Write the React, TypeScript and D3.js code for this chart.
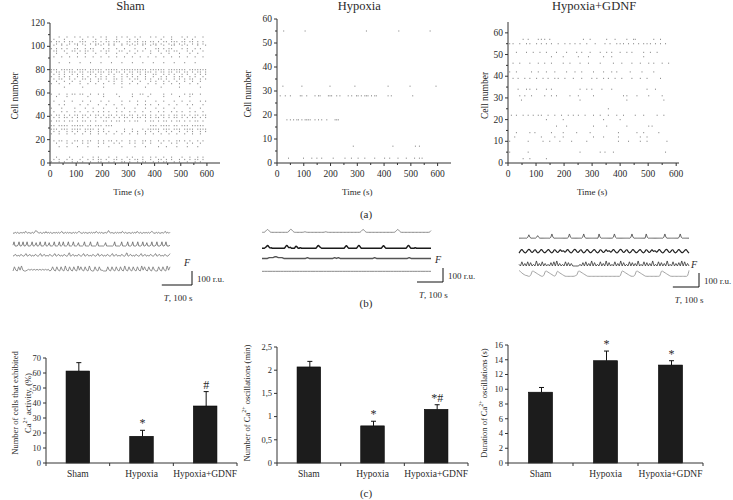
import React from 'react';
import * as d3 from 'd3';

const FONT = "'Liberation Serif', 'Times New Roman', serif";

// ---------- (a) raster data ----------
const rasterTitles = ['Sham', 'Hypoxia', 'Hypoxia+GDNF'];
const timeTicks = [0, 100, 200, 300, 400, 500, 600];

// Sham: [cell number, occupancy of 10-s bins over 0–600 s ('|' = Ca2+ event)]
const shamRows: [number, string][] = [
  [108, "...|..|..| .|..|.|..| .|...|.|.| ..|.|...|. |..|..|... |.|..|..|."],
  [106, ".|...|.... ..|....|.. .|...|.... |..|...... ..|...|... .|..|....."],
  [104, "|.||.|.||. .|||..||.| .||.|||..| |.||.||.|| .|.||.|||. ||.||.|.|."],
  [102, "..|.|..|.| |.|..|.||. |.|.|..|.| .|.|.||..| |.|..|.|.| .|..|.|.|."],
  [101, ".|..|.|... |..|...|.| ..|.|..|.. |.|..|..|. |..|..||.. |.|...|..|"],
  [98, "|.|.|.|..| |..|.||... |.|..|..|. ..|...|... ||.|.||... |.|..|.|.."],
  [96, ".||..|..|| .|.||.|..| .||...||.. |..|.|..|. .|..||.||. ..|.|...|."],
  [94, "..|...|... |..|...|.. .|...|...| ..|.....|. ..|..|...| ...|..|..."],
  [91, ".|..|..|.. |..|..|..| ..|..|..|. .|..|..|.. |..|..|..| ..|..|..|."],
  [86, "...|...|.. .|...|...| ...|...|.. .|...|...| ...|...|.. .|...|...."],
  [80, "|||.|||||. ||||.||||| .|||||.||| |||||||.|| ||||.||||| ||.|||||||"],
  [78, "|.||.|.||| .||.|||.|| |.||.||.|. ||.||.|||. |.||.||.|| .||.|.||.|"],
  [76, ".|.|.|..|. |.|..|.|.| ..|.|..|.| .|..|.|..| |..|.|.|.. |.|..|.|.|"],
  [74, "|..|.|.|.. |.|.|..|.| .|..|..|.| .|.|..|..| ..|.|..|.| |..|.|..|."],
  [72, ".|.||..|.| ..||.|..|| .|..||.|.. |.||..|.|. .||.|..|.| .|.||..|.|"],
  [70, "..|..|..|. .|...|..|. ..|.|..|.. .|..|...|. |..|.|..|. .|..|..|.."],
  [68, "|..|...|.. .|..|..|.. |...|..|.. |..|...|.. |..|..|..| ...|..|..."],
  [65, ".....|.... ..|....... |......|.. ......|... ..|......| .......|.."],
  [59, "|..|..|.|| .||..|..|. |....|.... .|..||..|. ...|..|... .|.||..|.."],
  [57, "..|...|... ....|..... |.....|... .|.....|.. ...|.....| ...|......"],
  [53, ".|...|..|. ..|..|...| ..|....|.. |..|..|... |..|...|.. |..|...|.|"],
  [50, "...|.|.... .|..|...|. .|..|..|.. ...|..|.|. .|...|..|. ..|.|...|."],
  [47, "|...|....| ...|..|... |....|..|. ..|...|... |..|...|.. ...|...|.."],
  [44, ".|..|.|..| .|..|.|.|. |.|..|.|.. |.|..|..|. .|.|..|.|. |..|.|..|."],
  [41, "|.||.|.|.| |.||.|.||. |.||.|.||. ||.|.||.|. |.||.|.||. ||.|.||.||"],
  [39, ".|.|.||.|. |.|.|..|.| .||.|.|.|| .|.||.|.|. ||.|.|.||. |.|.||.|.|"],
  [36, "|.||.|.||. |.||.|.|.. ||.|.||.|. |.||..|.|| .|.||.|.|| .|.|.||.|."],
  [32, "||.||||.|| |||.||.||| .|||...... ........|| |.||||.||. |||.|||||."],
  [29, "|||.|||.|| ||.||||.|. |.......|. .|...|.||| ||.|||.||| .||||.||||"],
  [27, ".|.|..|.|. |..|.|..|. |.|..|..|. .|.|..|.|. .|..|.|..| ..|.|..|.|"],
  [25, "|..|..|..| ..|..|..|. .|..|..|.. |..|..|..| ..|..|..|. .|..|..|.."],
  [19, ".|.||.|..| |.|.||..|. |.||.|.|.. |.|..||.|. .|.|.|..|| .|.|..|.|."],
  [17, "..|...|.|. ..|.|...|. |...|.|... |.|..|..|. ..|...|.|. ..|.|..|.."],
  [14, "...|..|... |...|...|. ..|....|.. ..|...|... .|..|...|. ..|...|..."],
  [5, "..|....|.. ..|...|.|. ..|..|...| .|...|..|. |..|..|... |..|..|.|."],
  [3, ".|.|..|.|. .|..|.|.|| .|..||.|.. |.||.|..|. .||.|.|..| .|.|.||.|."],
  [1, "|..|.|..|. |.|..|..|| ..|.|..||. |..|.||..| .|.||..|.| ..|..|.|.."],
];

// Hypoxia: [cell number, event times (s)]
const hypoxiaRows: [number, number[]][] = [
  [55, [25, 105, 334, 455, 572]],
  [32, [22, 93, 198, 291, 415, 497, 594]],
  [28, [12, 31, 50, 87, 93, 111, 142, 155, 161, 192, 198, 204, 223, 235, 266, 279, 297, 303, 315, 328, 334, 340, 353, 365, 371, 415, 427, 507]],
  [18, [37, 50, 62, 74, 80, 93, 105, 111, 117, 124, 142, 155, 167, 186, 217, 223, 229]],
  [7, [285, 433, 517, 532]],
  [2, [43, 99, 130, 149, 167, 210, 254, 278, 303, 328, 365, 402, 421, 452, 483, 514, 532, 542]],
];

// Hypoxia+GDNF: [cell number, event times (s)]
const gdnfRows: [number, number[]][] = [
  [57, [54, 72, 108, 119, 131, 149, 269, 293, 352, 382, 424, 448, 454, 520, 544]],
  [55, [6, 18, 42, 66, 78, 102, 119, 137, 155, 179, 203, 221, 239, 257, 281, 311, 346, 364, 388, 400, 412, 430, 448, 466, 484, 496, 508, 526, 544, 562]],
  [51, [30, 66, 90, 114, 137, 173, 209, 245, 263, 293, 329, 352, 370, 400, 424, 442, 484, 508, 532]],
  [49, [155, 197, 251, 287, 341, 370, 484]],
  [46, [18, 42, 78, 108, 131, 155, 197, 221, 257, 287, 329, 376, 406, 442, 472, 502, 520, 550, 573]],
  [42, [6, 30, 84, 108, 137, 167, 209, 239, 263, 305, 341, 370, 388, 436, 478, 520]],
  [39, [18, 36, 60, 78, 102, 125, 143, 167, 179, 203, 233, 263, 299, 317, 341, 358, 382, 406, 442, 472, 496, 544]],
  [34, [36, 66, 78, 102, 137, 155, 257, 281, 299, 335, 370, 496, 526]],
  [31, [42, 60, 84, 131, 155, 173, 221, 251, 305, 412, 424, 460, 502, 550]],
  [29, [48, 257, 424, 556]],
  [25, [358]],
  [22, [12, 30, 54, 72, 90, 108, 119, 143, 167, 191, 215, 233, 251, 275, 305, 329, 358, 388, 412, 454, 484, 532, 556]],
  [20, [137, 197, 341, 400]],
  [17, [173, 209, 305, 352, 424, 502, 514]],
  [14, [30, 78, 96, 155, 197, 245, 293, 394, 460, 484, 538]],
  [12, [24, 119, 167, 197, 305, 341, 394, 472, 496]],
  [10, [6, 72, 125, 149, 185, 227, 281, 394, 430, 472, 496, 567]],
  [5, [6, 72, 257, 329, 346, 376, 562]],
  [2, [54, 78, 137]],
];

// ---------- (b) fluorescence traces (each digit = 6 r.u. above baseline, evenly spaced in time) ----------
const shamTraces = [
  "1121211212132121121243212112131212112121212311212121121212321121211212121321212112124212112121213212112112121321211212121232112121121231212",
  "1500015001500150001500140015000150014000150001500150001500015000140000150000150000015000000140000000150000015000015000150001500015001400015000150001500150001",
  "1231213212412312132124123121321241231213212512312132124123121321241231213212412312132125123121321241231213212412312132124",
  "0510516100121212121212121201510510510610510510615105106100510511000510510510510610510510510615105105100510510615",
];
const hypoxiaTraces = [
  "222464222222222222225642222222232222222222222232222222222222222222222222464222222222222222222222246422222222222222222222224",
  "2223464232222222222224642422225422322222222222222464322222222222222222222246322222222464222222222222222222246322222222222222222224642222322222222222222",
  "3333444554443333333333333433333333333333434333333333333333333343333333333333333334333333333333",
  "2222222222222222222222222222222222222222222222222222222222222222",
];
const gdnfTraces = [
  "111111112521111124211111111112621111111111111262111111111126211111111111162111111111112621111111111111262111111111116211111111111111262111111111112621111111",
  "14631256314621364124631264136251463125631462136412463126413625146312563146213641246312641362514631256314621364124631",
  "2050305040206030503020405060302050403000002040503060402050306040205030604020504030602050403060205040306020503040605030",
  "9865433223987654322398765432397654322222222339876543222222222222222222222222229876543222398765432222222222229876543222222222222229",
];
const shamCurves = ['mono', 'linear', 'mono', 'linear'];
const hypoxiaCurves = ['basis', 'basis', 'linear', 'linear'];
const gdnfCurves = ['linear', 'basis', 'linear', 'basis'];

// ---------- (c) bar data ----------
const categories = ['Sham', 'Hypoxia', 'Hypoxia+GDNF'];
const activeCells = [61.3, 17.8, 38.0];
const activeCellsErr = [5.6, 4.0, 9.6];
const activeMarks = ['', '*', '#'];
const oscNumber = [2.07, 0.8, 1.156];
const oscNumberErr = [0.12, 0.1, 0.1];
const oscNumberMarks = ['', '*', '*#'];
const oscDuration = [9.6, 13.87, 13.28];
const oscDurationErr = [0.64, 1.31, 0.59];
const oscDurationMarks = ['', '*', '*'];

const AXIS = '#333';
const TXT = '#2a2a2a';

type RasterProps = {
  x0: number; x1: number; yBottom: number; yTop: number; xMax: number; yMax: number;
  yStep: number; yMinor: number; title: string; events: [number, number][];
  labelX: number; dotColor: string; yTickMax: number;
};

function Raster(p: RasterProps) {
  const xs = d3.scaleLinear().domain([0, p.xMax]).range([p.x0, p.x1]);
  const ys = d3.scaleLinear().domain([0, p.yMax]).range([p.yBottom, p.yTop]);
  const yTicks = d3.range(0, p.yTickMax + 0.001, p.yStep);
  const yMinor = d3.range(p.yMinor, p.yMax, p.yStep);
  const xMinor = d3.range(50, p.xMax, 100);
  return (
    <g>
      <text x={xs(300) + 2} y={10} fontSize={12.5} textAnchor="middle" fill={TXT}>{p.title}</text>
      {p.events.map(([c, t], i) => (
        <rect key={i} x={xs(t) - 0.5} y={ys(c) - 0.6} width={1} height={1.2} fill={p.dotColor} />
      ))}
      <line x1={p.x0} x2={p.x0} y1={p.yBottom} y2={p.yTop} stroke={AXIS} />
      <line x1={p.x0} x2={p.x1} y1={p.yBottom} y2={p.yBottom} stroke={AXIS} />
      {yTicks.map((v) => (
        <g key={'y' + v}>
          <line x1={p.x0 - 3} x2={p.x0} y1={ys(v)} y2={ys(v)} stroke={AXIS} />
          <text x={p.x0 - 5} y={ys(v)} dy="0.33em" fontSize={9.5} textAnchor="end" fill={TXT}>{v}</text>
        </g>
      ))}
      {yMinor.map((v) => (
        <line key={'ym' + v} x1={p.x0 - 2} x2={p.x0} y1={ys(v)} y2={ys(v)} stroke={AXIS} />
      ))}
      {timeTicks.map((v) => (
        <g key={'x' + v}>
          <line x1={xs(v)} x2={xs(v)} y1={p.yBottom} y2={p.yBottom + 3} stroke={AXIS} />
          <text x={xs(v)} y={p.yBottom + 14} fontSize={9.5} textAnchor="middle" fill={TXT}>{v}</text>
        </g>
      ))}
      {xMinor.map((v) => (
        <line key={'xm' + v} x1={xs(v)} x2={xs(v)} y1={p.yBottom} y2={p.yBottom + 2} stroke={AXIS} />
      ))}
      <text x={xs(300)} y={195} fontSize={9} textAnchor="middle" fill={TXT}>Time (s)</text>
      <text transform={`translate(${p.labelX},${(p.yBottom + p.yTop) / 2 + 3}) rotate(-90)`} dy="0.33em" fontSize={9.5} textAnchor="middle" fill={TXT}>Cell number</text>
    </g>
  );
}

type TraceProps = {
  x0: number; x1: number; duration: number; traces: string[]; baselines: number[];
  colors: string[]; widths: number[]; curves: string[]; corner: [number, number];
};

const RU_PX = 0.14; // px per r.u.
const DIGIT_RU = 6;

function Traces(p: TraceProps) {
  const xs = d3.scaleLinear().domain([0, p.duration]).range([p.x0, p.x1]);
  const vs = d3.scaleLinear().domain([0, 100]).range([0, 100 * RU_PX]);
  const [cxp, cyp] = p.corner;
  const barW = xs(100) - xs(0);
  const barH = vs(100);
  const curveOf = (c: string) => (c === 'basis' ? d3.curveBasis : c === 'mono' ? d3.curveMonotoneX : d3.curveLinear);
  return (
    <g>
      {p.traces.map((s, k) => {
        const vals = s.split('').map((c) => +c * DIGIT_RU);
        const n = vals.length;
        const line = d3.line<number>()
          .x((_, i) => xs((i * p.duration) / (n - 1)))
          .y((d) => p.baselines[k] - vs(d))
          .curve(curveOf(p.curves[k]));
        return <path key={k} d={line(vals) || ''} fill="none" stroke={p.colors[k]} strokeWidth={p.widths[k]} strokeLinejoin="round" />;
      })}
      <path d={`M${cxp - barW},${cyp}H${cxp}V${cyp - barH}`} fill="none" stroke="#111" strokeWidth={1} />
      <text x={cxp - 5} y={cyp - barH - 5} fontSize={10} fontStyle="italic" textAnchor="middle" fill={TXT}>F</text>
      <text x={cxp + 5} y={cyp - 6} dy="0.33em" fontSize={9} fill={TXT}>100 r.u.</text>
      <text x={cxp - barW + 2} y={cyp + 13} dy="0.33em" fontSize={9} fill={TXT}><tspan fontStyle="italic">T</tspan>, 100 s</text>
    </g>
  );
}

type BarProps = {
  x0: number; x1: number; yBottom: number; yTop: number; yMax: number; yStep: number;
  values: number[]; errs: number[]; marks: string[]; fmt: (v: number) => string;
  label: React.ReactNode;
};

function Bars(p: BarProps) {
  const xs = d3.scaleBand<string>().domain(categories).range([p.x0, p.x1]).padding(0);
  const ys = d3.scaleLinear().domain([0, p.yMax]).range([p.yBottom, p.yTop]);
  const bw = xs.bandwidth() * 0.37;
  const yTicks = d3.range(0, p.yMax + 1e-6, p.yStep);
  const bounds = [p.x0, ...categories.map((c) => (xs(c) as number) + xs.bandwidth())];
  return (
    <g>
      {categories.map((c, i) => {
        const cx = (xs(c) as number) + xs.bandwidth() / 2;
        const top = ys(p.values[i]);
        const cap = ys(p.values[i] + p.errs[i]);
        return (
          <g key={c}>
            <line x1={cx + 1} x2={cx + 1} y1={top} y2={cap} stroke="#111" strokeWidth={1} />
            <line x1={cx - 1.5} x2={cx + 3.5} y1={cap} y2={cap} stroke="#111" strokeWidth={1} />
            <rect x={cx - bw / 2} y={top} width={bw} height={p.yBottom - top} fill="#1c1c1c" stroke="#000" strokeWidth={0.6} />
            {p.marks[i] && (
              <text x={cx + 1} y={cap - 3} fontSize={12} textAnchor="middle" fill={TXT}>{p.marks[i]}</text>
            )}
            <text x={cx} y={p.yBottom + 14} fontSize={9.5} textAnchor="middle" fill={TXT}>{c}</text>
          </g>
        );
      })}
      <line x1={p.x0} x2={p.x0} y1={p.yBottom} y2={p.yTop} stroke={AXIS} />
      <line x1={p.x0} x2={p.x1} y1={p.yBottom} y2={p.yBottom} stroke={AXIS} />
      {bounds.map((b, i) => (
        <line key={i} x1={b} x2={b} y1={p.yBottom} y2={p.yBottom + 3} stroke={AXIS} />
      ))}
      {yTicks.map((v) => (
        <g key={v}>
          <line x1={p.x0 - 3} x2={p.x0} y1={ys(v)} y2={ys(v)} stroke={AXIS} />
          <text x={p.x0 - 5} y={ys(v)} dy="0.33em" fontSize={8.5} textAnchor="end" fill={TXT}>{p.fmt(v)}</text>
        </g>
      ))}
      {p.label}
    </g>
  );
}

function CaLabel({ x, y, before, after }: { x: number; y: number; before: string; after: string }) {
  return (
    <text transform={`translate(${x},${y}) rotate(-90)`} dy="0.33em" textAnchor="middle">
      {before}Ca<tspan fontSize={6} dy={-3.5}>2+</tspan><tspan dy={3.5}>{after}</tspan>
    </text>
  );
}

export default function App() {
  const shamEvents: [number, number][] = [];
  shamRows.forEach(([c, pat]) => {
    pat.replace(/\s/g, '').split('').forEach((ch, i) => {
      if (ch === '|') shamEvents.push([c, i * 10 + 5]);
    });
  });
  const hypEvents: [number, number][] = hypoxiaRows.flatMap(([c, ts]) => ts.map((t) => [c, t] as [number, number]));
  const gdnfEvents: [number, number][] = gdnfRows.flatMap(([c, ts]) => ts.map((t) => [c, t] as [number, number]));
  const comma = (v: number) => String(+v.toFixed(1)).replace('.', ',');

  return (
    <svg width={733} height={500} style={{ position: 'absolute', left: 0, top: 0, background: '#fff' }} fontFamily={FONT}>
      <rect width={733} height={500} fill="#fff" />
      <Raster x0={50} x1={220} yBottom={163} yTop={23} xMax={650} yMax={120} yStep={20} yMinor={10} yTickMax={120}
        title={rasterTitles[0]} events={shamEvents} labelX={15} dotColor="#8c8c8c" />
      <Raster x0={277} x1={451} yBottom={163} yTop={19} xMax={650} yMax={60} yStep={10} yMinor={5} yTickMax={60}
        title={rasterTitles[1]} events={hypEvents} labelX={248} dotColor="#8f8f8f" />
      <Raster x0={508} x1={679} yBottom={163} yTop={22} xMax={610} yMax={65} yStep={10} yMinor={5} yTickMax={60}
        title={rasterTitles[2]} events={gdnfEvents} labelX={485} dotColor="#8f8f8f" />
      <text x={366} y={214} dy="0.33em" fontSize={11} textAnchor="middle" fill={TXT}>(a)</text>

      <Traces x0={13} x1={170} duration={520} traces={shamTraces} baselines={[234, 246, 257, 271]}
        colors={['#666', '#666', '#666', '#777']} widths={[0.8, 0.8, 0.8, 0.8]} curves={shamCurves} corner={[192, 285]} />
      <Traces x0={262} x1={431} duration={650} traces={hypoxiaTraces} baselines={[234, 250, 261, 273]}
        colors={['#888', '#1a1a1a', '#555', '#888']} widths={[1, 1.5, 1.4, 1]} curves={hypoxiaCurves} corner={[443, 282]} />
      <Traces x0={519} x1={689} duration={650} traces={gdnfTraces} baselines={[239, 254, 266, 278]}
        colors={['#555', '#222', '#333', '#999']} widths={[0.9, 1.2, 0.8, 0.9]} curves={gdnfCurves} corner={[699, 287]} />
      <text x={366} y={303} dy="0.33em" fontSize={11} textAnchor="middle" fill={TXT}>(b)</text>

      <Bars x0={46} x1={237} yBottom={463} yTop={358} yMax={70} yStep={10}
        values={activeCells} errs={activeCellsErr} marks={activeMarks} fmt={(v) => String(v)}
        label={
          <g fontSize={8.5} fill={TXT}>
            <text transform="translate(15,403) rotate(-90)" dy="0.33em" textAnchor="middle">Number of cells that exhibited</text>
            <CaLabel x={28} y={403} before="" after=" activity, (%)" />
          </g>
        } />
      <Bars x0={277} x1={468} yBottom={463} yTop={347} yMax={2.5} yStep={0.5}
        values={oscNumber} errs={oscNumberErr} marks={oscNumberMarks} fmt={comma}
        label={
          <g fontSize={8.5} fill={TXT}>
            <CaLabel x={247} y={403} before="Number of " after=" oscillations (min)" />
          </g>
        } />
      <Bars x0={508} x1={703} yBottom={463} yTop={345} yMax={16} yStep={2}
        values={oscDuration} errs={oscDurationErr} marks={oscDurationMarks} fmt={(v) => String(v)}
        label={
          <g fontSize={8.5} fill={TXT}>
            <CaLabel x={484} y={403} before="Duration of " after=" oscillations (s)" />
          </g>
        } />
      <text x={366} y={493} dy="0.33em" fontSize={11} textAnchor="middle" fill={TXT}>(c)</text>
    </svg>
  );
}
